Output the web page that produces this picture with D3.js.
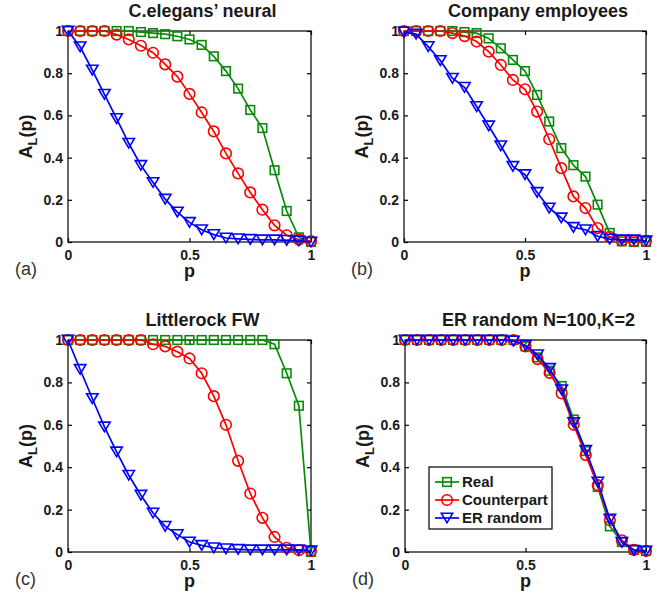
<!DOCTYPE html>
<html>
<head>
<meta charset="utf-8">
<script src="https://cdn.jsdelivr.net/npm/d3@7"></script>
<style>
  html, body { margin: 0; padding: 0; background: #fff; }
  svg { display: block; font-family: "Liberation Sans", Arial, Helvetica, sans-serif; }
</style>
</head>
<body>
<svg id="chart" width="668" height="595"></svg>
<script>
// ---------- data ----------
const pValues = [0, 0.05, 0.1, 0.15, 0.2, 0.25, 0.3, 0.35, 0.4, 0.45, 0.5, 0.55, 0.6, 0.65, 0.7, 0.75, 0.8, 0.85, 0.9, 0.95, 1];

const panelTitles = ["C.elegans\u2019 neural", "Company employees", "Littlerock FW", "ER random N=100,K=2"];
const panelLetters = ["(a)", "(b)", "(c)", "(d)"];
const seriesNames = ["Real", "Counterpart", "ER random"];

// (a) C.elegans' neural
const realA    = [1, 1, 1, 1, 1, 1, 0.995, 0.99, 0.985, 0.975, 0.96, 0.934, 0.88, 0.81, 0.727, 0.626, 0.54, 0.34, 0.147, 0.022, 0];
const counterA = [1, 1, 1, 1, 0.983, 0.96, 0.93, 0.897, 0.842, 0.784, 0.702, 0.614, 0.524, 0.42, 0.325, 0.235, 0.153, 0.079, 0.032, 0.011, 0.004];
const erA      = [1, 0.925, 0.815, 0.70, 0.585, 0.468, 0.363, 0.282, 0.203, 0.142, 0.093, 0.058, 0.035, 0.019, 0.015, 0.012, 0.01, 0.01, 0.008, 0.005, 0];

// (b) Company employees
const realB    = [1, 1, 1, 1, 1, 0.995, 0.99, 0.965, 0.918, 0.863, 0.81, 0.697, 0.571, 0.445, 0.364, 0.31, 0.177, 0.043, 0.003, 0, 0];
const counterB = [1, 1, 1, 1, 0.99, 0.976, 0.95, 0.902, 0.839, 0.768, 0.724, 0.618, 0.487, 0.35, 0.216, 0.161, 0.066, 0.024, 0.008, 0.005, 0.005];
const erB      = [0.995, 0.985, 0.926, 0.86, 0.776, 0.733, 0.642, 0.55, 0.456, 0.358, 0.319, 0.235, 0.161, 0.114, 0.069, 0.058, 0.027, 0.014, 0.01, 0.01, 0.005];

// (c) Littlerock FW
const realC    = [1, 1, 1, 1, 1, 1, 1, 1, 1, 1, 1, 1, 1, 1, 1, 1, 1, 0.98, 0.843, 0.69, 0];
const counterC = [1, 1, 1, 1, 1, 1, 1, 0.98, 0.97, 0.945, 0.913, 0.843, 0.735, 0.60, 0.43, 0.276, 0.161, 0.071, 0.02, 0.008, 0.005];
const erC      = [1, 0.861, 0.724, 0.59, 0.472, 0.362, 0.268, 0.184, 0.121, 0.082, 0.047, 0.031, 0.02, 0.015, 0.012, 0.01, 0.01, 0.01, 0.01, 0.01, 0.005];

// (d) ER random N=100, K=2
const realD    = [1, 1, 1, 1, 1, 1, 1, 1, 1, 1, 0.97, 0.918, 0.855, 0.783, 0.625, 0.476, 0.307, 0.121, 0.047, 0.01, 0.005];
const counterD = [1, 1, 1, 1, 1, 1, 1, 1, 1, 1, 0.97, 0.91, 0.845, 0.748, 0.60, 0.457, 0.315, 0.15, 0.055, 0.01, 0.005];
const erD      = [1, 1, 1, 1, 1, 1, 1, 1, 1, 0.995, 0.975, 0.93, 0.866, 0.765, 0.61, 0.48, 0.33, 0.155, 0.045, 0.008, 0.004];

const xTickValues = [0, 0.5, 1];
const xTickLabels = ["0", "0.5", "1"];
const yTickValues = [0, 0.2, 0.4, 0.6, 0.8, 1];
const yTickLabels = ["0", "0.2", "0.4", "0.6", "0.8", "1"];

// ---------- layout & style ----------
const colors = ["#0a8a0a", "#ff0000", "#0000ff"];
const markerTypes = ["square", "circle", "triangle"];
const textColor = "#1a1a1a";

const panels = [
  { left: 68,  right: 311, top: 31,  bottom: 242, series: [realA, counterA, erA] },
  { left: 404, right: 646, top: 31,  bottom: 242, series: [realB, counterB, erB] },
  { left: 68,  right: 311, top: 340, bottom: 552, series: [realC, counterC, erC] },
  { left: 405, right: 646, top: 340, bottom: 552, series: [realD, counterD, erD] }
];

const svg = d3.select("#chart");

function drawMarker(g, type, x, y, color) {
  if (type === "square") {
    g.append("rect").attr("x", x - 4.3).attr("y", y - 4.3).attr("width", 8.6).attr("height", 8.6)
      .attr("fill", "none").attr("stroke", color).attr("stroke-width", 1.6);
  } else if (type === "circle") {
    g.append("circle").attr("cx", x).attr("cy", y).attr("r", 5.3)
      .attr("fill", "none").attr("stroke", color).attr("stroke-width", 1.6);
  } else {
    const w = 5.7, h = 4.8;
    g.append("path").attr("d", `M${x - w},${y - h}L${x + w},${y - h}L${x},${y + h}Z`)
      .attr("fill", "none").attr("stroke", color).attr("stroke-width", 1.6).attr("stroke-linejoin", "miter");
  }
}

panels.forEach((pnl, i) => {
  const x = d3.scaleLinear().domain([0, 1]).range([pnl.left, pnl.right]);
  const y = d3.scaleLinear().domain([0, 1]).range([pnl.bottom, pnl.top]);
  const g = svg.append("g");

  // frame
  g.append("rect").attr("x", pnl.left).attr("y", pnl.top)
    .attr("width", pnl.right - pnl.left).attr("height", pnl.bottom - pnl.top)
    .attr("fill", "none").attr("stroke", "#000").attr("stroke-width", 1.2);

  // axes via d3 (bottom / left with labels, top / right ticks only)
  const tl = 4;
  const xAxisB = d3.axisBottom(x).tickValues(xTickValues).tickFormat((d, k) => xTickLabels[k]).tickSizeInner(-tl).tickSizeOuter(0).tickPadding(8);
  const xAxisT = d3.axisTop(x).tickValues(xTickValues).tickFormat("").tickSizeInner(-tl).tickSizeOuter(0);
  const yAxisL = d3.axisLeft(y).tickValues(yTickValues).tickFormat((d, k) => yTickLabels[k]).tickSizeInner(-tl).tickSizeOuter(0).tickPadding(5);
  const yAxisR = d3.axisRight(y).tickValues(yTickValues).tickFormat("").tickSizeInner(-tl).tickSizeOuter(0);

  const styleAxis = sel => {
    sel.select(".domain").remove();
    sel.selectAll(".tick line").attr("stroke", "#000").attr("stroke-width", 1.2);
    sel.selectAll(".tick text").attr("fill", textColor).attr("font-size", 14).attr("font-weight", "bold");
  };
  g.append("g").attr("transform", `translate(0,${pnl.bottom})`).call(xAxisB).call(styleAxis);
  g.append("g").attr("transform", `translate(0,${pnl.top})`).call(xAxisT).call(styleAxis);
  g.append("g").attr("transform", `translate(${pnl.left},0)`).call(yAxisL).call(styleAxis);
  g.append("g").attr("transform", `translate(${pnl.right},0)`).call(yAxisR).call(styleAxis);

  // title
  g.append("text").attr("x", (pnl.left + pnl.right) / 2 + 13).attr("y", pnl.top - 14)
    .attr("text-anchor", "middle").attr("font-size", 18).attr("font-weight", "bold")
    .attr("fill", textColor).text(panelTitles[i]);

  // x label
  g.append("text").attr("x", (pnl.left + pnl.right) / 2).attr("y", pnl.bottom + 35)
    .attr("text-anchor", "middle").attr("font-size", 18).attr("font-weight", "bold")
    .attr("fill", textColor).text("p");

  // y label
  const yl = g.append("text")
    .attr("transform", `translate(${pnl.left - 36},${(pnl.top + pnl.bottom) / 2}) rotate(-90)`)
    .attr("text-anchor", "middle").attr("font-size", 18).attr("font-weight", "bold").attr("fill", textColor);
  yl.append("tspan").text("A");
  yl.append("tspan").attr("font-size", 13).attr("dy", 5).text("L");
  yl.append("tspan").attr("dy", -5).text("(p)");

  // panel letter
  g.append("text").attr("x", pnl.left - 53).attr("y", pnl.bottom + 33)
    .attr("font-size", 18).attr("fill", "#333").text(panelLetters[i]);

  // series
  const line = d3.line().x((d, k) => x(pValues[k])).y(d => y(d));
  pnl.series.forEach((vals, s) => {
    g.append("path").datum(vals).attr("d", line)
      .attr("fill", "none").attr("stroke", colors[s]).attr("stroke-width", 1.7);
    const mg = g.append("g");
    vals.forEach((v, k) => drawMarker(mg, markerTypes[s], x(pValues[k]), y(v), colors[s]));
  });

  // legend in panel (d)
  if (i === 3) {
    const lg = g.append("g");
    lg.append("rect").attr("x", 429).attr("y", 467).attr("width", 123).attr("height", 62)
      .attr("fill", "#fff").attr("stroke", "#000").attr("stroke-width", 1.2);
    seriesNames.forEach((name, s) => {
      const cy = 482 + s * 18;
      lg.append("line").attr("x1", 435).attr("x2", 459).attr("y1", cy).attr("y2", cy)
        .attr("stroke", colors[s]).attr("stroke-width", 1.7);
      drawMarker(lg, markerTypes[s], 447, cy, colors[s]);
      lg.append("text").attr("x", 462).attr("y", cy).attr("dy", "0.36em")
        .attr("font-size", 15).attr("font-weight", "bold").attr("fill", textColor).text(name);
    });
  }
});
</script>
</body>
</html>
